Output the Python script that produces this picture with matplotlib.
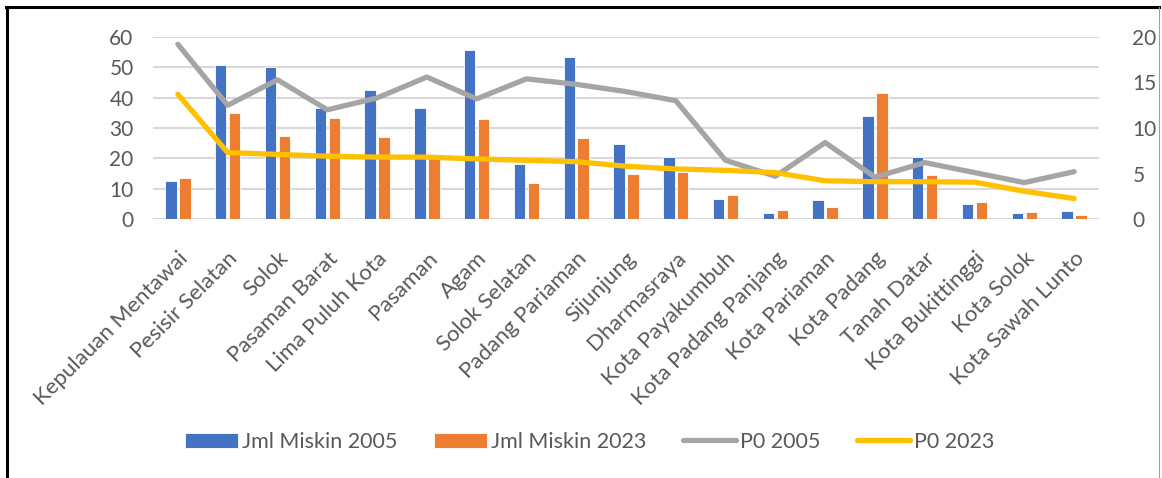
import matplotlib
matplotlib.use("Agg")
import matplotlib.pyplot as plt
from matplotlib.lines import Line2D
import numpy as np

# Kabupaten / kota names
categories = [
    "Kepulauan Mentawai", "Pesisir Selatan", "Solok", "Pasaman Barat",
    "Lima Puluh Kota", "Pasaman", "Agam", "Solok Selatan", "Padang Pariaman",
    "Sijunjung", "Dharmasraya", "Kota Payakumbuh", "Kota Padang Panjang",
    "Kota Pariaman", "Kota Padang", "Tanah Datar", "Kota Bukittinggi",
    "Kota Solok", "Kota Sawah Lunto",
]

# Number of poor people (thousands) - left axis
jml_miskin_2005 = [12.5, 50.8, 50.2, 36.5, 42.5, 36.6, 55.7, 18.1, 53.4, 24.6,
                   20.3, 6.45, 1.9, 6.1, 33.9, 20.3, 4.9, 2.0, 2.5]
jml_miskin_2023 = [13.55, 34.9, 27.2, 33.3, 26.9, 20.0, 33.1, 11.8, 26.7, 14.75,
                   15.4, 7.8, 2.95, 3.8, 41.7, 14.4, 5.7, 2.3, 1.3]

# Poverty rate P0 (%) - right axis
p0_2005 = [19.2, 12.5, 15.3, 12.0, 13.3, 15.6, 13.2, 15.4, 14.8, 14.0,
           13.0, 6.45, 4.7, 8.4, 4.6, 6.2, 5.1, 4.0, 5.2]
p0_2023 = [13.7, 7.3, 7.1, 6.9, 6.8, 6.8, 6.6, 6.45, 6.3, 5.8,
           5.5, 5.35, 5.1, 4.2, 4.1, 4.1, 4.05, 3.05, 2.25]

plt.rcParams["font.family"] = ["Lato", "DejaVu Sans"]
TXT = "#595959"
FS = 15

W, H = 1162, 478
fig = plt.figure(figsize=(W / 100, H / 100), dpi=100)
ax = fig.add_axes([153 / W, 1 - 219 / H, (1099 - 153) / W, (219 - 37) / H])
ax2 = ax.twinx()

x = np.arange(len(categories))
bw = 0.23
ax.bar(x - 0.14, jml_miskin_2005, bw, color="#4472C4", edgecolor="white",
       linewidth=0.6, label="Jml Miskin 2005", zorder=2)
ax.bar(x + 0.14, jml_miskin_2023, bw, color="#ED7D31", edgecolor="white",
       linewidth=0.6, label="Jml Miskin 2023", zorder=2)
ax2.plot(x, p0_2005, color="#A5A5A5", lw=3.8, solid_joinstyle="round",
         solid_capstyle="round", label="P0 2005")
ax2.plot(x, p0_2023, color="#FFC000", lw=3.8, solid_joinstyle="round",
         solid_capstyle="round", label="P0 2023")

ax.set_xlim(-0.5, len(categories) - 0.5)
ax.set_ylim(0, 60)
ax2.set_ylim(0, 20)
ax.set_yticks(range(0, 61, 10))
ax2.set_yticks(range(0, 21, 5))
ax.yaxis.grid(True, color="#D9D9D9", lw=1.5, zorder=0)
ax.set_axisbelow(True)

for a in (ax, ax2):
    for s in a.spines.values():
        s.set_visible(False)
    a.tick_params(length=0, labelsize=FS, labelcolor=TXT)
ax.tick_params(axis="y", pad=14)
ax2.tick_params(axis="y", pad=24)

ax.set_xticks(x)
ax.set_xticklabels(categories, rotation=45, ha="right",
                   rotation_mode="anchor", fontsize=16, color=TXT)
ax.tick_params(axis="x", pad=21)

h1, l1 = ax.get_legend_handles_labels()
h2, l2 = ax2.get_legend_handles_labels()
leg = fig.legend(h1 + h2, l1 + l2, loc="center", ncol=4,
                 bbox_to_anchor=(590 / W, 1 - 442 / H), frameon=False,
                 fontsize=15.5, handlelength=2.45, handleheight=0.7,
                 handletextpad=0.2, columnspacing=1.7)
for t in leg.get_texts():
    t.set_color(TXT)

# outer frame
fig.add_artist(Line2D([7 / W, 7 / W], [0, 1 - 7 / H], color="black", lw=2.2,
                      transform=fig.transFigure))
fig.add_artist(Line2D([6 / W, 1159 / W], [1 - 7 / H, 1 - 7 / H], color="black",
                      lw=2.2, transform=fig.transFigure))
fig.add_artist(Line2D([1159 / W, 1159 / W], [0, 1 - 7 / H], color="#A0A0A0",
                      lw=0.8, transform=fig.transFigure))

fig.savefig("out.png", dpi=100)
